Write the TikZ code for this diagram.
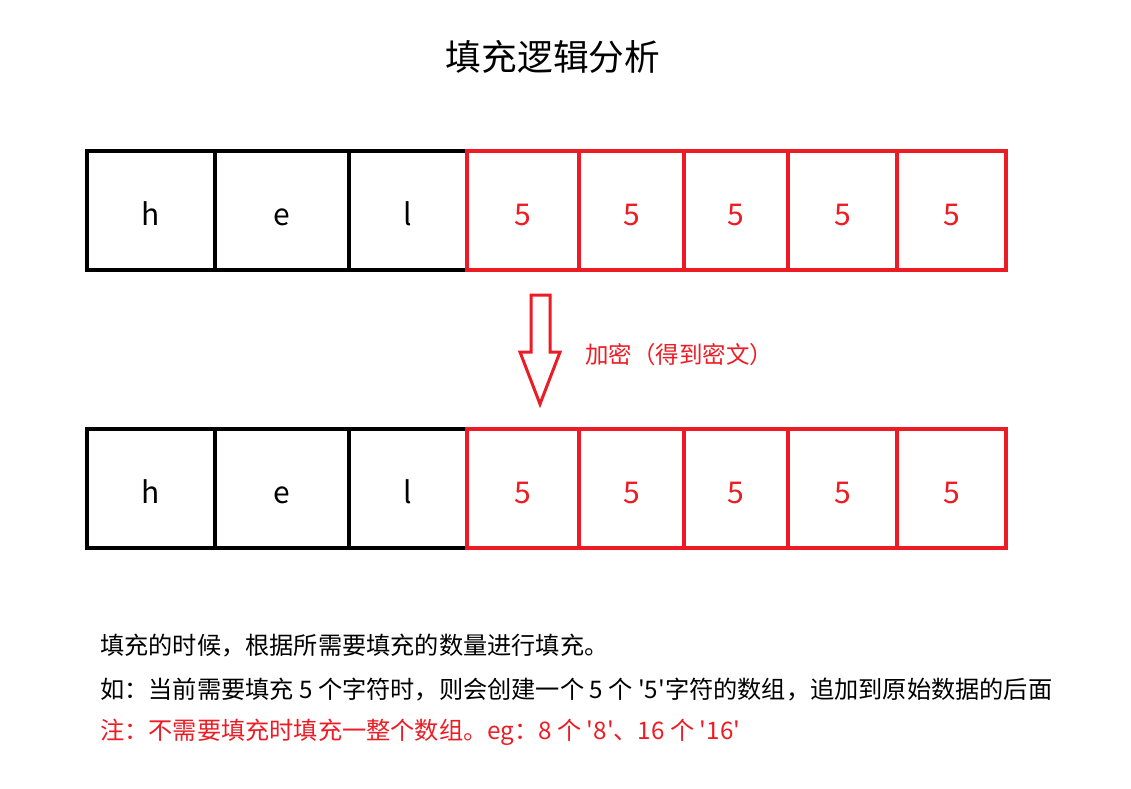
\documentclass[tikz,border=0pt]{standalone}
\usepackage{fontspec}
\setmainfont{Noto Sans CJK SC}
\usetikzlibrary{calc, positioning}

\definecolor{padred}{HTML}{ED1C24}

\tikzset{
  cell/.style={draw, line width=4pt, inner sep=0pt, minimum height=119pt,
    text height=30pt, text depth=0pt, font=\fontsize{30}{34}\selectfont},
  padcell/.style={cell, draw=padred, text=padred},
  note/.style={anchor=west, inner sep=0pt, font=\fontsize{24.2}{28}\selectfont},
}

\begin{document}
\begin{tikzpicture}[x=1pt, y=-1pt]
\def\rowa{210}
\def\rowb{488}

\useasboundingbox (0,0) rectangle (1131,788);

\node[font=\fontsize{35.7}{40}\selectfont] (title) at (553,57) {填充逻辑分析};

% first row
\foreach \xa/\xb/\txt [count=\i] in {87/215/h, 215/349/e, 349/467/l}
  \node[cell, minimum width={(\xb-\xa)*1pt}] (a\i) at ({(\xa+\xb)/2},\rowa) {\txt};
\foreach \xa/\xb [count=\i from 4] in {467/579, 579/684, 684/788, 788/897, 897/1006}
  \node[padcell, minimum width={(\xb-\xa)*1pt}] (a\i) at ({(\xa+\xb)/2},\rowa) {5};

% second row
\foreach \xa/\xb/\txt [count=\i] in {87/215/h, 215/349/e, 349/467/l}
  \node[cell, minimum width={(\xb-\xa)*1pt}] (b\i) at ({(\xa+\xb)/2},\rowb) {\txt};
\foreach \xa/\xb [count=\i from 4] in {467/579, 579/684, 684/788, 788/897, 897/1006}
  \node[padcell, minimum width={(\xb-\xa)*1pt}] (b\i) at ({(\xa+\xb)/2},\rowb) {5};

% hollow arrow
\draw[padred, line width=3pt, fill=white, line join=miter]
  (531,295) -- (550,295) -- (550,352) -- (560,352) -- (540,404)
  -- (520,352) -- (531,352) -- cycle;
\node[note, text=padred, font=\fontsize{23.5}{28}\selectfont] (enc) at (585,355) {加密（得到密文）};

\node[note] (n1) at (100,646) {填充的时候，根据所需要填充的数量进行填充。};
\node[note] (n2) at (100,690) {如：当前需要填充 5 个字符时，则会创建一个 5 个 \textquotesingle 5\textquotesingle 字符的数组，追加到原始数据的后面};
\node[note, text=padred] (n3) at (100,732) {注：不需要填充时填充一整个数组。eg：8 个 \textquotesingle 8\textquotesingle 、16 个 \textquotesingle 16\textquotesingle};
\end{tikzpicture}
\end{document}
